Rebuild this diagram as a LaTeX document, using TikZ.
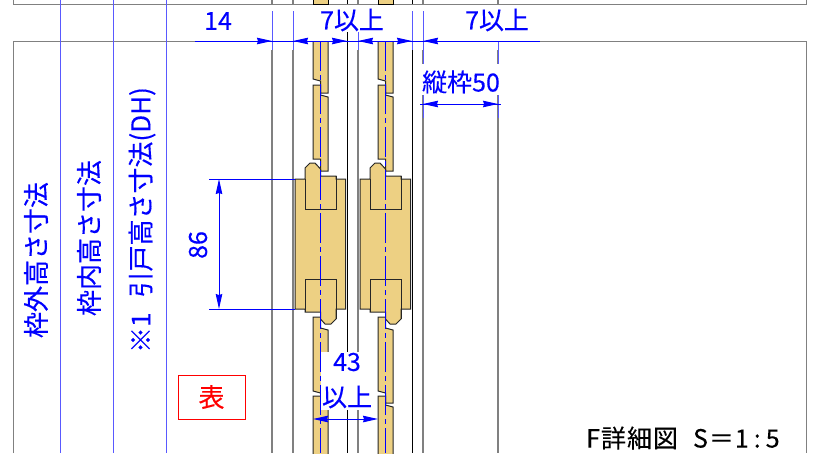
\documentclass[tikz,border=0pt]{standalone}
\usepackage{fontspec}
\setmainfont[FakeBold=0.3]{Noto Sans CJK JP}
\newfontfamily\titlefont[FakeBold=0.2,LetterSpace=4]{Noto Sans CJK JP}
\usetikzlibrary{arrows.meta}
\definecolor{woodFill}{HTML}{EDD083}
\definecolor{dimBlue}{HTML}{0000FF}
\begin{document}
\begin{tikzpicture}
[x=1pt,y=-1pt,
  frameLine/.style={draw=black!50,line width=1pt},%
  sideLine/.style={draw=black!50,line width=1.3pt},%
  doorLine/.style={draw=black,line width=1pt},%
  guideLine/.style={draw=dimBlue!65,line width=1pt},%
  dimLine/.style={draw=dimBlue,line width=1pt},%
  dimTip/.style={dimLine,-{Stealth[length=15pt,width=6.5pt,inset=1pt]}},%
  dimBoth/.style={dimLine,{Stealth[length=15pt,width=6.5pt,inset=1pt]}-{Stealth[length=15pt,width=6.5pt,inset=1pt]}},%
  centerLine/.style={draw=dimBlue,line width=1.4pt,dash pattern=on 30pt off 4pt on 5pt off 4pt},%
  woodPiece/.style={fill=woodFill,draw=black!85,line width=1pt,line join=miter},%
  dimText/.style={text=dimBlue,inner sep=0pt,font=\fontsize{25}{25}\selectfont},%
  sideText/.style={dimText,rotate=90,font=\fontsize{26}{26}\selectfont}]
\useasboundingbox (0,0) rectangle (826,453);
%% outer frames
\draw[frameLine] (13,0) -- (13,4) -- (806,4) -- (806,0);
\draw[frameLine] (13,453) -- (13,41) -- (806,41) -- (806,453);
\foreach \xpos in {60,113,166}
{
  \draw[guideLine] (\xpos,0) -- (\xpos,453);
}
%% frame and door lines
\foreach \xpos in {272,293,358,423,498}
{
  \draw[sideLine] (\xpos,0) -- (\xpos,4);
  \draw[sideLine] (\xpos,50) -- (\xpos,453);
}
\foreach \xpos in {347,412}
{
  \draw[doorLine] (\xpos,0) -- (\xpos,4);
  \draw[doorLine] (\xpos,50) -- (\xpos,453);
}
%% door stiles and rails
\foreach \xpos in {320.5,385.5}
{
  \begin{scope}[shift={(\xpos,0)}]
    \fill[woodFill] (-7.5,0) rectangle (7.5,4);
    \draw[doorLine,line width=.8pt] (-7.5,0) -- (-7.5,4) -- (7.5,4) -- (7.5,0);
    \draw[woodPiece] (-7.5,41) -- (7.5,41) -- (7.5,93) -- (0,93) -- (0,81) -- (-7.5,79) -- cycle;
    \draw[woodPiece] (-7.5,85) -- (0,85) -- (0,95) -- (7.5,97) -- (7.5,171) -- (0,171) -- (0,159) -- (-7.5,159) -- cycle;
    \draw[woodPiece] (-7.5,317) -- (0,317) -- (0,328) -- (7.5,330) -- (7.5,403) -- (0,403) -- (0,393) -- (-7.5,391) -- cycle;
    \draw[woodPiece] (-7.5,396) -- (0,396) -- (0,405) -- (7.5,407) -- (7.5,460) -- (-7.5,460) -- cycle;
    \draw[woodPiece] (-25.5,179) -- (-15.5,179) -- (-15.5,168) -- (-10.5,163) -- (-5.5,163) -- (0,169) -- (0,176) -- (15.5,176) -- (15.5,179) -- (25,179)
      -- (25,309) -- (15.5,309) -- (15.5,319) -- (10.5,324) -- (4.5,324) -- (0,319) -- (0,312) -- (-15.5,312) -- (-15.5,309) -- (-25.5,309) -- cycle;
    \draw[woodPiece,fill=none] (-15.5,179) -- (-15.5,209) -- (15.5,209) -- (15.5,176);
    \draw[woodPiece,fill=none] (-15.5,312) -- (-15.5,279) -- (15.5,279) -- (15.5,319);
    \draw[centerLine] (0,41) -- (0,453);
  \end{scope}
}
%% white backing of the texts
\fill[white] (320.5,352) rectangle (375,410);
\fill[white] (415,64) rectangle (505,95);
\fill[white] (190,5) rectangle (560,40.5);
%% extension lines
\foreach \xpos/\ytop/\ybot in {272/11/50, 293/11/50, 358/32/50, 412/11/50, 423/11/64, 498/41/64, 423/95/118, 498/95/118}
{
  \draw[guideLine] (\xpos,\ytop) -- (\xpos,\ybot);
}
\draw[doorLine] (347,32) -- (347,50);
%% dimension lines
\draw[dimLine] (195,41) -- (540,41);
\foreach \tipx/\tailx in {272/257, 293/308, 347/332, 358/373, 412/397, 423/438}
{
  \draw[dimTip] (\tailx,41) -- (\tipx,41);
}
\coordinate (widthL) at (423,104);
\coordinate (widthR) at (498,104);
\coordinate (gapL) at (313,419);
\coordinate (gapR) at (378,419);
\coordinate (railT) at (219,179);
\coordinate (railB) at (219,309);
\draw[dimLine] (420,104) -- (501,104);
\draw[dimBoth] (widthL) -- (widthR);
\draw[dimBoth] (gapL) -- (gapR);
\draw[dimBoth] (railT) -- (railB);
\draw[dimLine] (209,179) -- (295,179);
\draw[dimLine] (209,309) -- (295,309);
%% labels
\node[dimText] (dim14) at (218,21) {14};
\node[dimText] (dimMidGap) at (352,20) {7以上};
\node[dimText] (dimOutGap) at (497,20) {7以上};
\node[dimText] (dimStile) at (461,82) {縦枠50};
\node[dimText] (dimRail) at (347,362) {43};
\node[dimText] (dimRailMore) at (347,397) {以上};
\node[dimText,rotate=90] (dim86) at (198,245) {86};
\node[sideText] (outerHeight) at (36,260) {枠外高さ寸法};
\node[sideText] (innerHeight) at (89,238) {枠内高さ寸法};
\node[sideText] (doorHeight) at (142,220) {※1\hspace{15pt}引戸高さ寸法(DH)};
\node[draw=red,text=red,minimum width=67pt,minimum height=44pt,inner sep=0pt,line width=.8pt,font=\fontsize{26}{26}\selectfont] (frontMark) at (211.5,397) {表};
\node[inner sep=0pt,anchor=west,font=\fontsize{25}{25}\titlefont] (drawTitle) at (586,438) {F詳細図\hspace{15pt}S＝1\hspace{5pt}:\hspace{5pt}5};
\end{tikzpicture}
\end{document}
